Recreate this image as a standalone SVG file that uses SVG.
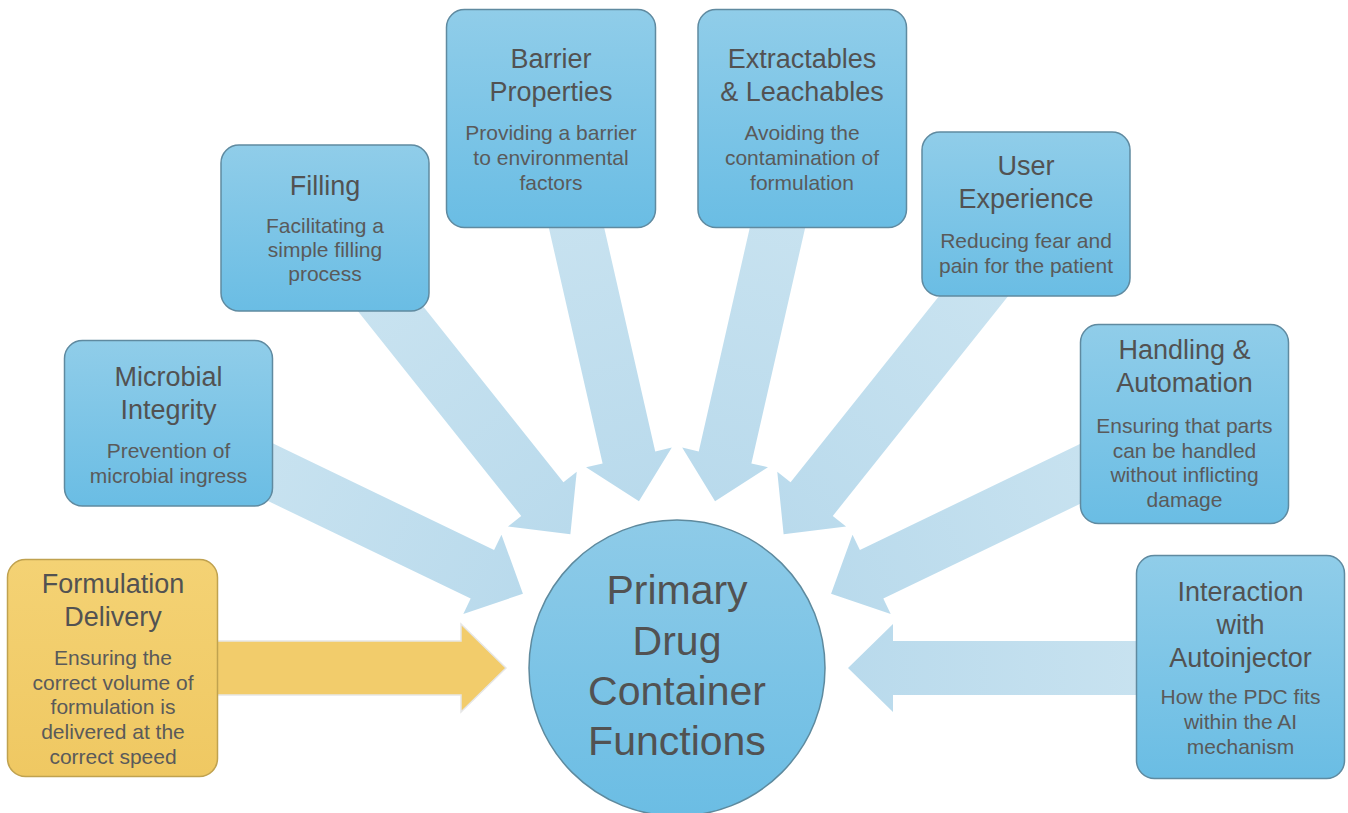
<svg xmlns="http://www.w3.org/2000/svg" xmlns:xlink="http://www.w3.org/1999/xlink" width="1348" height="813" viewBox="0 0 1348 813">
<style>
  text { font-family: "Liberation Sans", Arial, sans-serif; fill: #525252; text-anchor: middle; }
  .t { font-size: 27px; }
  .s { font-size: 21px; fill: #5a5a5a; }
  .c { font-size: 41px; }
  .box { fill: url(#boxGrad); stroke: #5f8aa0; stroke-width: 1.5; }
  .ybox { fill: url(#yGrad); stroke: #c0a24f; stroke-width: 1.5; }
  .arr { fill: url(#arrGrad); }
  .yarr { fill: #f2cc6b; stroke: #e6e6e6; stroke-width: 1.5; }
</style>
<defs>
  <linearGradient id="boxGrad" x1="0" y1="0" x2="0" y2="1">
    <stop offset="0" stop-color="#90cde9"/>
    <stop offset="1" stop-color="#6abde4"/>
  </linearGradient>
  <linearGradient id="yGrad" x1="0" y1="0" x2="0" y2="1">
    <stop offset="0" stop-color="#f4d274"/>
    <stop offset="1" stop-color="#efc862"/>
  </linearGradient>
  <linearGradient id="circGrad" x1="0" y1="0" x2="0" y2="1">
    <stop offset="0" stop-color="#8ecbe8"/>
    <stop offset="1" stop-color="#6bbde4"/>
  </linearGradient>
  <linearGradient id="arrGrad" x1="0" y1="0" x2="1" y2="0">
    <stop offset="0" stop-color="#cde5f1"/>
    <stop offset="1" stop-color="#b9daec"/>
  </linearGradient>
  <polygon id="arrowShape" points="-400,-27 -45,-27 -45,-44 0,0 -45,44 -45,27 -400,27"/>
</defs>
<rect width="1348" height="813" fill="#ffffff"/>

<g id="connectors">
  <use xlink:href="#arrowShape" class="yarr" transform="translate(677,668) rotate(0) translate(-171,0)"/>
  <use xlink:href="#arrowShape" class="arr" transform="translate(677,668) rotate(25.714) translate(-171,0)"/>
  <use xlink:href="#arrowShape" class="arr" transform="translate(677,668) rotate(51.429) translate(-171,0)"/>
  <use xlink:href="#arrowShape" class="arr" transform="translate(677,668) rotate(77.143) translate(-171,0)"/>
  <use xlink:href="#arrowShape" class="arr" transform="translate(677,668) rotate(102.857) translate(-171,0)"/>
  <use xlink:href="#arrowShape" class="arr" transform="translate(677,668) rotate(128.571) translate(-171,0)"/>
  <use xlink:href="#arrowShape" class="arr" transform="translate(677,668) rotate(154.286) translate(-171,0)"/>
  <use xlink:href="#arrowShape" class="arr" transform="translate(677,668) rotate(180) translate(-171,0)"/>
</g>

<g id="formulation-delivery">
  <rect class="ybox" x="7.5" y="559.5" width="210" height="217" rx="18"/>
  <text class="t" x="113" y="593">Formulation</text>
  <text class="t" x="113" y="626">Delivery</text>
  <text class="s" x="113" y="665">Ensuring the</text>
  <text class="s" x="113" y="690">correct volume of</text>
  <text class="s" x="113" y="714">formulation is</text>
  <text class="s" x="113" y="739">delivered at the</text>
  <text class="s" x="113" y="764">correct speed</text>
</g>

<g id="microbial-integrity">
  <rect class="box" x="64.5" y="340.5" width="208" height="165.5" rx="18"/>
  <text class="t" x="168.5" y="386">Microbial</text>
  <text class="t" x="168.5" y="419">Integrity</text>
  <text class="s" x="168.5" y="458">Prevention of</text>
  <text class="s" x="168.5" y="483">microbial ingress</text>
</g>

<g id="filling">
  <rect class="box" x="221" y="145" width="208" height="166" rx="18"/>
  <text class="t" x="325" y="195">Filling</text>
  <text class="s" x="325" y="233">Facilitating a</text>
  <text class="s" x="325" y="257">simple filling</text>
  <text class="s" x="325" y="281">process</text>
</g>

<g id="barrier-properties">
  <rect class="box" x="446.5" y="9.5" width="209" height="218" rx="18"/>
  <text class="t" x="551" y="68">Barrier</text>
  <text class="t" x="551" y="101">Properties</text>
  <text class="s" x="551" y="140">Providing a barrier</text>
  <text class="s" x="551" y="165">to environmental</text>
  <text class="s" x="551" y="190">factors</text>
</g>

<g id="extractables-leachables">
  <rect class="box" x="698" y="9.5" width="208.5" height="218" rx="18"/>
  <text class="t" x="802" y="68">Extractables</text>
  <text class="t" x="802" y="101">&amp; Leachables</text>
  <text class="s" x="802" y="140">Avoiding the</text>
  <text class="s" x="802" y="165">contamination of</text>
  <text class="s" x="802" y="190">formulation</text>
</g>

<g id="user-experience">
  <rect class="box" x="922" y="132" width="208" height="164" rx="18"/>
  <text class="t" x="1026" y="175">User</text>
  <text class="t" x="1026" y="208">Experience</text>
  <text class="s" x="1026" y="248">Reducing fear and</text>
  <text class="s" x="1026" y="273">pain for the patient</text>
</g>

<g id="handling-automation">
  <rect class="box" x="1080.5" y="324.5" width="208" height="199" rx="18"/>
  <text class="t" x="1184.5" y="359">Handling &amp;</text>
  <text class="t" x="1184.5" y="392">Automation</text>
  <text class="s" x="1184.5" y="433">Ensuring that parts</text>
  <text class="s" x="1184.5" y="458">can be handled</text>
  <text class="s" x="1184.5" y="482">without inflicting</text>
  <text class="s" x="1184.5" y="507">damage</text>
</g>

<g id="interaction-autoinjector">
  <rect class="box" x="1136.5" y="555.5" width="208" height="223" rx="18"/>
  <text class="t" x="1240.5" y="601">Interaction</text>
  <text class="t" x="1240.5" y="634">with</text>
  <text class="t" x="1240.5" y="667">Autoinjector</text>
  <text class="s" x="1240.5" y="704">How the PDC fits</text>
  <text class="s" x="1240.5" y="729">within the AI</text>
  <text class="s" x="1240.5" y="754">mechanism</text>
</g>

<g id="primary-drug-container-functions">
  <circle cx="677" cy="668" r="148" fill="url(#circGrad)" stroke="#5e8a9e" stroke-width="1.5"/>
  <text class="c" x="677" y="604">Primary</text>
  <text class="c" x="677" y="655">Drug</text>
  <text class="c" x="677" y="705">Container</text>
  <text class="c" x="677" y="755">Functions</text>
</g>
</svg>
